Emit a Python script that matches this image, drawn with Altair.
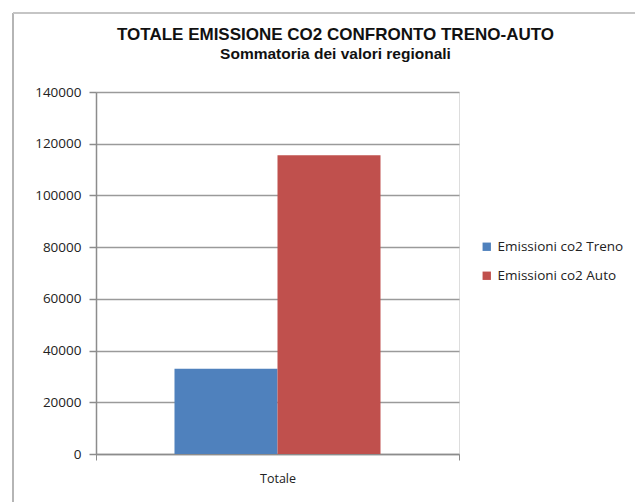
import altair as alt
import pandas as pd

categories = ["Totale", "Totale"]
series = ["Emissioni co2 Treno", "Emissioni co2 Auto"]
values = [33000, 115500]
colors = ["#4F81BD", "#C0504D"]
y_ticks = [0, 20000, 40000, 60000, 80000, 100000, 120000, 140000]

df = pd.DataFrame({"cat": categories, "serie": series, "val": values})

FONT = "Liberation Sans"
LFONT = "Open Sans"

bars = alt.Chart(df).mark_bar().encode(
    x=alt.X("cat:N", title=None,
            scale=alt.Scale(paddingInner=0, paddingOuter=0),
            axis=alt.Axis(labelAngle=0, tickBand="extent", domainColor="#8c8c8c",
                          tickColor="#8c8c8c", tickSize=6, domainWidth=1.5,
                          labelFont=LFONT, labelFontSize=12.5, labelColor="#222",
                          labelPadding=12)),
    xOffset=alt.XOffset("serie:N", sort=series,
                        scale=alt.Scale(paddingInner=0, paddingOuter=0.762)),
    y=alt.Y("val:Q", title=None,
            scale=alt.Scale(domain=[0, 140000], nice=False),
            axis=alt.Axis(values=y_ticks, format="d", grid=True, gridColor="#9a9a9a",
                          gridWidth=1.5, domainColor="#8c8c8c", domainWidth=1.5,
                          tickColor="#8c8c8c", tickSize=7, tickWidth=1.5,
                          labelFont=LFONT, labelFontSize=13.5, labelColor="#222",
                          labelPadding=8)),
    color=alt.Color("serie:N", sort=series,
                    scale=alt.Scale(domain=series, range=colors),
                    legend=alt.Legend(title=None, orient="none", legendX=384, legendY=148,
                                      symbolType="square", symbolSize=70,
                                      symbolStrokeWidth=0, labelFont=LFONT,
                                      labelFontSize=13.5, labelColor="#222",
                                      rowPadding=14, labelOffset=4)),
)

frame_left = alt.Chart(df).mark_rule(color="#b5b5b5", strokeWidth=2).encode(
    x=alt.value(-83), y=alt.value(-79), y2=alt.value(410))
frame_top = alt.Chart(df).mark_rule(color="#c5c5c5", strokeWidth=2).encode(
    x=alt.value(-83), x2=alt.value(539), y=alt.value(-79))

chart = alt.layer(bars, frame_left, frame_top).properties(
    width=363, height=362,
    autosize=alt.AutoSizeParams(type="none"),
    padding={"left": 96, "top": 92, "right": 176, "bottom": 48},
    title=alt.TitleParams(
        text="TOTALE EMISSIONE CO2 CONFRONTO TRENO-AUTO",
        subtitle="Sommatoria dei valori regionali",
        anchor="middle", dx=58, dy=55, offset=4,
        font=FONT, fontSize=17, fontWeight="bold", color="#111",
        subtitleFont=FONT, subtitleFontSize=15.5, subtitleFontWeight="bold",
        subtitleColor="#111", subtitlePadding=3),
).configure_view(stroke=None).configure(background="white")

chart.save("out.html", embed_options={"renderer": "svg", "actions": False})
